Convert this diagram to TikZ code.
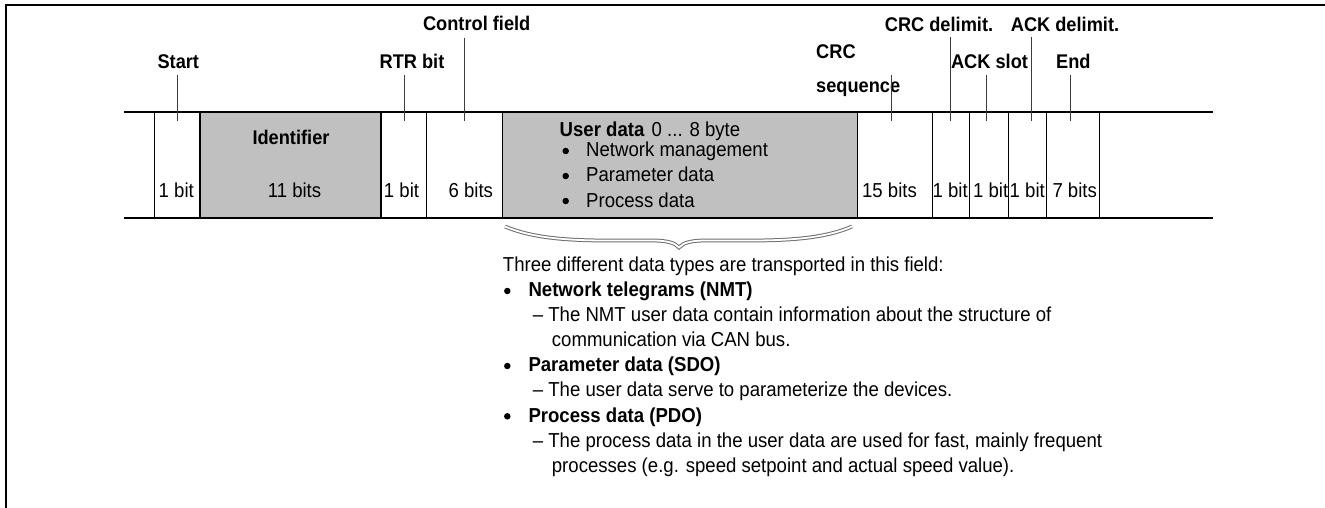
\documentclass[tikz,border=0pt]{standalone}
\usepackage{fontspec}
\setmainfont{Liberation Sans}[FakeStretch=0.92]
\definecolor{boxgray}{RGB}{192,192,192}
\definecolor{tickgray}{RGB}{60,60,60}
\definecolor{bracegray}{RGB}{110,110,110}
\begin{document}
\begin{tikzpicture}[x=1pt,y=-1pt,
  lbl/.style={font=\fontsize{19.8}{22}\selectfont\bfseries, inner sep=0, anchor=base},
  txt/.style={font=\fontsize{20.2}{25}\selectfont, inner sep=0, anchor=base west},
  btxt/.style={font=\fontsize{20.2}{25}\selectfont\bfseries, inner sep=0, anchor=base west},
  celltxt/.style={font=\fontsize{20.2}{25}\selectfont, inner sep=0, anchor=base},
  bul/.style={circle, fill=black, inner sep=0, minimum size=6.5pt},
  rule/.style={line width=1.5pt},
  cellline/.style={line width=1.3pt},
  tick/.style={line width=0.9pt, draw=tickgray},
  bracestyle/.style={draw=bracegray, line width=1pt, double=white, double distance=1.8pt},
  ]
\useasboundingbox (0,0) rectangle (1325,508);
\fill[white] (0,0) rectangle (1325,508);
% outer frame
\draw[line width=2pt] (5.5,508) -- (5.5,5.5) -- (1325,5.5);
% gray fields
\fill[boxgray] (200,112) rectangle (381,218);
\fill[boxgray] (502.7,112) rectangle (857.5,218);
% frame rules
\draw[rule] (124,112) -- (1213,112);
\draw[rule] (124,218) -- (1213,218);
\foreach \x in {154.3,200,381,426.7,502.7,857.5,932.7,969.3,1008.3,1046.7,1099.3}
  \draw[cellline] (\x,112) -- (\x,218);
% field labels
\node[lbl] (start) at (178.3,68.3) {Start};
\node[lbl] (rtr) at (412,68.3) {RTR bit};
\node[lbl] (ctrl) at (476.7,30.7) {Control field};
\node[lbl, anchor=base west] (crc) at (816,58.3) {CRC};
\node[lbl, anchor=base west] (crcseq) at (816,92.5) {sequence};
\node[lbl] (crcdel) at (939,31.7) {CRC delimit.};
\node[lbl] (ackdel) at (1065,31.7) {ACK delimit.};
\node[lbl] (ackslot) at (989.5,68.3) {ACK slot};
\node[lbl] (endl) at (1073.3,68.3) {End};
% ticks
\coordinate (startA) at (177.3,75);   \coordinate (startB) at (177.3,120.7);
\coordinate (rtrA) at (404.3,75);     \coordinate (rtrB) at (404.3,120.7);
\coordinate (ctrlA) at (464.3,38);    \coordinate (ctrlB) at (464.3,120.7);
\coordinate (crcA) at (891.7,75);     \coordinate (crcB) at (891.7,120.7);
\coordinate (crcdA) at (950,37.3);    \coordinate (crcdB) at (950,120.7);
\coordinate (slotA) at (986,75);      \coordinate (slotB) at (986,120.7);
\coordinate (ackdA) at (1031.7,37.3); \coordinate (ackdB) at (1031.7,120.7);
\coordinate (endA) at (1070.7,75);    \coordinate (endB) at (1070.7,120.7);
\foreach \a/\b in {startA/startB,rtrA/rtrB,ctrlA/ctrlB,crcA/crcB,crcdA/crcdB,slotA/slotB,ackdA/ackdB,endA/endB}
  \draw[tick] (\a) -- (\b);
% cell texts
\node[celltxt] (s1) at (176.3,197) {1 bit};
\node[lbl] (ident) at (291,145) {Identifier};
\node[celltxt] (id11) at (294.5,197) {11 bits};
\node[celltxt] (r1) at (401.5,197) {1 bit};
\node[celltxt] (c6) at (470.8,197) {6 bits};
\node[celltxt] (c15) at (889.5,197) {15 bits};
\node[celltxt] (d1) at (950.2,197) {1 bit};
\node[celltxt] (k1) at (990.7,197) {1 bit};
\node[celltxt] (a1) at (1027.3,197) {1 bit};
\node[celltxt] (e7) at (1074.7,197) {7 bits};
% user data
\node[btxt] (ud) at (559.5,136) {User data};
\node[txt] (udsz) at (651.5,136) {0 ... 8 byte};
\node[bul] (ub1) at (565.7,151) {};
\node[txt] (u1) at (586,157) {Network management};
\node[bul] (ub2) at (565.7,176) {};
\node[txt] (u2) at (586,182) {Parameter data};
\node[bul] (ub3) at (565.7,201) {};
\node[txt] (u3) at (586,207) {Process data};
% brace
\draw[bracestyle] (505,226.5) .. controls (530,237) and (560,240) .. (600,240.5)
  -- (652,240.5) .. controls (668,240.5) and (675,243) .. (679,247.5)
  .. controls (683,243) and (690,240.5) .. (706,240.5)
  -- (758,240.5) .. controls (798,240) and (828,237) .. (852,226.5);
% description
\node[txt] (d0) at (502.7,271.7) {Three different data types are transported in this field:};
\node[bul] (db1) at (507.3,291) {};
\node[btxt] (dn) at (528.3,296.7) {Network telegrams (NMT)};
\node[txt] (dn1) at (532.7,321.7) {– The NMT user data contain information about the structure of};
\node[txt] (dn2) at (551.7,346.7) {communication via CAN bus.};
\node[bul] (db2) at (507.3,366) {};
\node[btxt] (dp) at (528.3,371.7) {Parameter data (SDO)};
\node[txt] (dp1) at (532.7,396.7) {– The user data serve to parameterize the devices.};
\node[bul] (db3) at (507.3,416.3) {};
\node[btxt] (dq) at (528.3,422) {Process data (PDO)};
\node[txt] (dq1) at (532.7,447) {– The process data in the user data are used for fast, mainly frequent};
\node[txt] (dq2) at (551.7,472) {processes (e.g. speed setpoint and actual speed value).};
\end{tikzpicture}
\end{document}
